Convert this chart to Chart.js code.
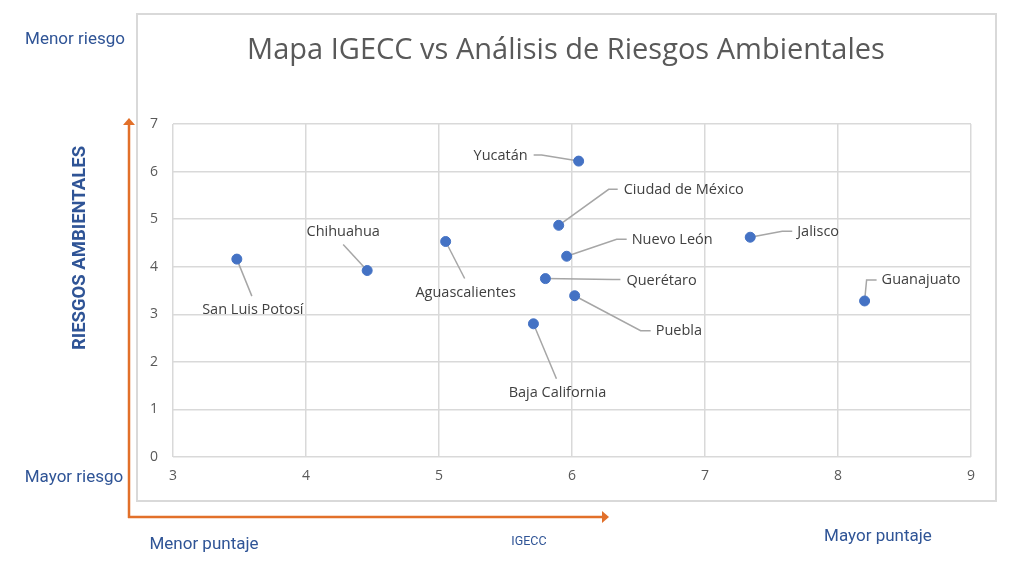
<!DOCTYPE html>
<html>
<head>
<meta charset="utf-8">
<script src="https://cdn.jsdelivr.net/npm/chart.js"></script>
<style>
  html, body { margin: 0; padding: 0; background: #fff; }
  #wrap { width: 1024px; height: 572px; }
</style>
</head>
<body>
<div id="wrap"><canvas id="mapa" width="1024" height="572"></canvas></div>
<script>
// datos
var estados = ['San Luis Potosí', 'Chihuahua', 'Aguascalientes', 'Yucatán', 'Ciudad de México',
               'Nuevo León', 'Querétaro', 'Puebla', 'Baja California', 'Jalisco', 'Guanajuato'];
var igecc    = [3.48, 4.46, 5.05, 6.05, 5.90, 5.96, 5.80, 6.02, 5.71, 7.34, 8.20];
var riesgos  = [4.16, 3.92, 4.53, 6.22, 4.87, 4.22, 3.75, 3.39, 2.80, 4.62, 3.28];
var xTicks = [3, 4, 5, 6, 7, 8, 9];
var yTicks = [0, 1, 2, 3, 4, 5, 6, 7];

// donde va cada etiqueta respecto a su punto (px): texto, fin de linea, codo
var etiquetas = [
    { tx: 16,  ty: 51,  al: 'center', ex: 15,  ey: 37 },
    { tx: -24, ty: -39, al: 'center', ex: -24, ey: -26 },
    { tx: 20,  ty: 51,  al: 'center', ex: 19,  ey: 37 },
    { tx: -51, ty: -5,  al: 'right',  ex: -45, ey: -6,  cx: -37, cy: -6 },
    { tx: 65,  ty: -35, al: 'left',   ex: 59,  ey: -36, cx: 50,  cy: -36 },
    { tx: 65,  ty: -16, al: 'left',   ex: 60,  ey: -17, cx: 50,  cy: -17 },
    { tx: 81,  ty: 2,   al: 'left',   ex: 75,  ey: 1,   cx: 67,  cy: 1 },
    { tx: 81,  ty: 35,  al: 'left',   ex: 76,  ey: 35,  cx: 66,  cy: 35 },
    { tx: 24,  ty: 69,  al: 'center', ex: 23,  ey: 55 },
    { tx: 47,  ty: -5,  al: 'left',   ex: 42,  ey: -6,  cx: 32,  cy: -6 },
    { tx: 17,  ty: -21, al: 'left',   ex: 12,  ey: -21, cx: 2,   cy: -21 }
];

var puntos = [];
for (var i in estados) {
    puntos.push({ x: igecc[i], y: riesgos[i] });
}

var azul = '#2F5496';
var naranja = '#E2702A';

function flecha(ctx, x1, y1, x2, y2) {
    var ang = Math.atan2(y2 - y1, x2 - x1);
    var L = 7, W = 6;
    ctx.beginPath();
    ctx.moveTo(x1, y1);
    ctx.lineTo(x2 - L * Math.cos(ang), y2 - L * Math.sin(ang));
    ctx.stroke();
    ctx.beginPath();
    ctx.moveTo(x2, y2);
    ctx.lineTo(x2 - L * Math.cos(ang) - W * Math.sin(ang), y2 - L * Math.sin(ang) + W * Math.cos(ang));
    ctx.lineTo(x2 - L * Math.cos(ang) + W * Math.sin(ang), y2 - L * Math.sin(ang) - W * Math.cos(ang));
    ctx.closePath();
    ctx.fill();
}

var extras = {
    id: 'extras',
    beforeDraw: function (chart) {
        var ctx = chart.ctx;
        ctx.save();
        ctx.strokeStyle = '#d9d9d9';
        ctx.lineWidth = 2;
        ctx.strokeRect(137, 14, 859, 487);
        ctx.restore();
    },
    beforeDatasetsDraw: function (chart) {
        var ctx = chart.ctx;
        var meta = chart.getDatasetMeta(0);
        ctx.save();
        ctx.strokeStyle = '#a6a6a6';
        ctx.lineWidth = 1.5;
        for (var i = 0; i < meta.data.length; i++) {
            var p = meta.data[i], e = etiquetas[i];
            ctx.beginPath();
            ctx.moveTo(p.x + e.ex, p.y + e.ey);
            if (e.cx !== undefined) ctx.lineTo(p.x + e.cx, p.y + e.cy);
            ctx.lineTo(p.x, p.y);
            ctx.stroke();
        }
        ctx.restore();
    },
    afterDraw: function (chart) {
        var ctx = chart.ctx;
        var meta = chart.getDatasetMeta(0);
        ctx.save();
        // etiquetas de los estados
        ctx.font = '14.5px "Open Sans"';
        ctx.fillStyle = '#404040';
        ctx.textBaseline = 'middle';
        for (var i = 0; i < meta.data.length; i++) {
            var p = meta.data[i], e = etiquetas[i];
            ctx.textAlign = e.al;
            ctx.fillText(estados[i], p.x + e.tx, p.y + e.ty);
        }
        // titulo
        ctx.font = '29px "Open Sans"';
        ctx.fillStyle = '#595959';
        ctx.textAlign = 'center';
        ctx.fillText('Mapa IGECC vs Análisis de Riesgos Ambientales', 566, 51);

        // flechas naranjas
        ctx.strokeStyle = naranja;
        ctx.fillStyle = naranja;
        ctx.lineWidth = 2.5;
        flecha(ctx, 129, 518, 129, 118);
        flecha(ctx, 128, 517, 609, 517);

        // textos de los ejes
        ctx.fillStyle = azul;
        ctx.font = '17px Roboto';
        ctx.textAlign = 'center';
        ctx.fillText('Menor riesgo', 75, 40);
        ctx.fillText('Mayor riesgo', 74, 478);
        ctx.fillText('Menor puntaje', 204, 545);
        ctx.fillText('Mayor puntaje', 878, 537);
        ctx.font = '12.5px Roboto';
        ctx.fillText('IGECC', 529, 542);

        ctx.translate(80, 248);
        ctx.rotate(-Math.PI / 2);
        ctx.font = 'bold 18.5px Roboto';
        ctx.fillText('RIESGOS AMBIENTALES', 0, 0);
        ctx.restore();
    }
};

var ctx = document.getElementById('mapa');

var mapa = new Chart(ctx, {
    type: 'scatter',
    data: {
        datasets: [{
            label: 'Estados',
            data: puntos,
            backgroundColor: '#4472C4',
            borderColor: '#4472C4',
            pointRadius: 5,
            pointHoverRadius: 5
        }]
    },
    options: {
        responsive: false,
        animation: false,
        layout: { padding: { left: 133, right: 53, top: 124, bottom: 85 } },
        plugins: {
            legend: { display: false },
            tooltip: { enabled: false }
        },
        scales: {
            x: {
                type: 'linear',
                min: xTicks[0],
                max: xTicks[xTicks.length - 1],
                afterBuildTicks: function (s) { s.ticks = xTicks.map(function (v) { return { value: v }; }); },
                afterFit: function (s) { s.height = 30; },
                ticks: { color: '#595959', font: { family: 'Open Sans', size: 14 }, padding: 11 },
                grid: { color: '#d9d9d9', lineWidth: 1.5, drawTicks: false },
                border: { display: false }
            },
            y: {
                min: yTicks[0],
                max: yTicks[yTicks.length - 1],
                afterBuildTicks: function (s) { s.ticks = yTicks.map(function (v) { return { value: v }; }); },
                afterFit: function (s) { s.width = 40; },
                ticks: { color: '#595959', font: { family: 'Open Sans', size: 14 }, padding: 15 },
                grid: { color: '#d9d9d9', lineWidth: 1.5, drawTicks: false },
                border: { display: false }
            }
        }
    },
    plugins: [extras]
});
</script>
</body>
</html>
